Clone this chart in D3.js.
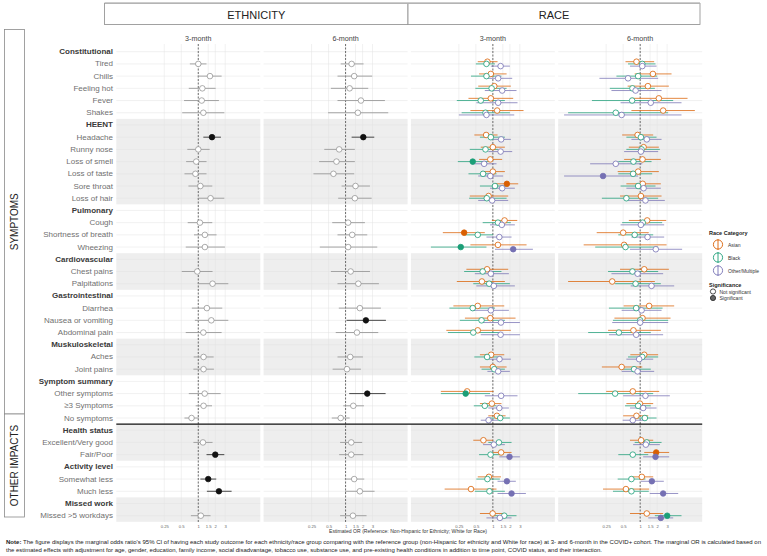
<!DOCTYPE html>
<html><head><meta charset="utf-8">
<script src="https://cdn.jsdelivr.net/npm/d3@7"></script>
<style>body{margin:0;background:#fff;} svg{display:block;font-family:"Liberation Sans",Arial,sans-serif;}</style>
</head><body><svg id="c" width="767" height="556"></svg>
<script>
// ---------------- DATA ----------------
const rowLabels = ["Constitutional","Tired","Chills","Feeling hot","Fever","Shakes",
  "HEENT","Headache","Runny nose","Loss of smell","Loss of taste","Sore throat","Loss of hair",
  "Pulmonary","Cough","Shortness of breath","Wheezing",
  "Cardiovascular","Chest pains","Palpitations",
  "Gastrointestinal","Diarrhea","Nausea or vomiting","Abdominal pain",
  "Muskuloskeletal","Aches","Joint pains",
  "Symptom summary","Other symptoms","\u22653 Symptoms","No symptoms",
  "Health status","Excellent/Very good","Fair/Poor",
  "Activity level","Somewhat less","Much less",
  "Missed work","Missed >5 workdays"];
const headers = ["Constitutional","HEENT","Pulmonary","Cardiovascular","Gastrointestinal","Muskuloskeletal","Symptom summary","Health status","Activity level","Missed work"];
const shadedGroups = ["HEENT","Cardiovascular","Muskuloskeletal","Health status","Missed work"];
const facetRows = ["SYMPTOMS","OTHER IMPACTS"];
const firstOtherImpactRow = "Health status";
const columnGroups = ["ETHNICITY","RACE"];
const timePoints = ["3-month","6-month"];
const raceCategories = ["Asian","Black","Other/Multiple"];
const raceColors = ["#D95F02","#1B9E77","#7570B3"];
const tickValues = [0.25,0.5,1,1.5,2,3];

// [OR, lower, upper] per outcome (29 outcomes, in row order)
const eth3 = [[1.00,0.71,1.40],[1.61,0.98,2.59],[1.18,0.68,2.03],[1.15,0.56,2.32],[1.23,0.52,2.89],
  [1.75,1.23,2.52],[1.00,0.64,1.59],[0.92,0.61,1.40],[0.89,0.57,1.40],[1.09,0.67,1.77],[1.65,0.98,2.89],
  [1.07,0.65,1.77],[1.31,0.84,2.11],[1.31,0.60,2.96],
  [0.96,0.51,1.79],[1.79,0.98,3.40],
  [1.42,0.77,2.66],[1.70,0.87,3.40],[1.23,0.60,2.59],
  [1.24,0.83,1.87],[1.24,0.82,1.89],
  [1.30,0.68,2.49],[1.24,0.90,1.75],[0.76,0.57,1.03],
  [1.21,0.82,1.79],[2.00,1.40,2.89],
  [1.50,1.09,2.08],[2.32,1.42,3.89],
  [1.11,0.74,1.65]];
const eth6 = [[1.28,0.82,2.08],[1.42,0.72,2.96],[1.18,0.55,2.52],[1.87,0.72,4.97],[1.65,0.49,5.69],
  [2.06,1.28,3.22],[0.77,0.42,1.46],[0.69,0.34,1.46],[0.61,0.27,1.42],[1.50,0.85,2.70],[1.46,0.74,2.89],
  [1.11,0.58,2.20],[1.31,0.72,2.42],[1.11,0.35,3.64],
  [1.23,0.55,2.70],[1.68,0.72,3.89],
  [1.79,0.76,4.22],[2.29,1.04,5.18],[1.59,0.67,3.79],
  [1.21,0.72,2.03],[1.06,0.59,1.87],
  [2.42,1.16,5.11],[1.37,0.91,2.11],[0.82,0.57,1.18],
  [1.26,0.80,1.97],[1.26,0.77,2.06],
  [1.42,0.97,2.14],[1.79,0.98,3.26],
  [1.35,0.80,2.35]];
const race3Asian = [[0.80,0.54,1.21],[0.92,0.57,1.75],[1.06,0.55,2.08],[0.92,0.37,2.29],[1.19,0.40,3.49],
  [0.76,0.47,1.21],[1.00,0.61,1.63],[0.90,0.57,1.46],[1.00,0.63,1.63],[1.77,1.09,2.81],[0.84,0.39,1.87],
  [1.61,0.96,2.70],[0.31,0.13,0.72],[1.23,0.40,3.95],
  [0.79,0.34,1.87],[0.64,0.23,1.63],
  [0.54,0.20,1.59],[0.90,0.32,2.52],[0.54,0.15,2.08],
  [0.93,0.59,1.59],[1.00,0.59,1.75],
  [0.35,0.12,1.03],[0.96,0.59,1.42],[1.18,0.83,1.68],
  [0.68,0.45,1.01],[1.40,0.97,2.14],
  [0.85,0.54,1.39],[0.41,0.14,1.16],
  [0.99,0.59,1.63]];
const race3Black = [[0.77,0.50,1.09],[0.77,0.41,1.42],[0.95,0.49,1.75],[0.61,0.23,1.63],[0.74,0.28,2.00],
  [0.92,0.59,1.63],[0.74,0.39,1.24],[0.44,0.24,0.83],[0.67,0.37,1.16],[1.09,0.59,1.87],[0.78,0.38,1.75],
  [1.23,0.66,2.08],[0.54,0.30,1.01],[0.27,0.08,0.77],
  [0.66,0.31,1.42],[0.86,0.45,2.00],
  [0.44,0.17,1.09],[0.63,0.26,1.63],[0.45,0.16,1.42],
  [0.79,0.47,1.42],[1.06,0.63,1.63],
  [0.33,0.12,0.89],[0.72,0.46,1.16],[1.35,0.89,2.00],
  [1.28,0.83,2.14],[0.91,0.57,1.52],
  [0.80,0.51,1.33],[0.87,0.48,1.63],
  [1.59,0.95,2.62]];
const race3Other = [[1.37,0.92,2.00],[1.24,0.72,2.20],[1.46,0.72,2.62],[1.24,0.51,2.73],[0.77,0.25,2.39],
  [1.40,0.89,2.08],[1.37,0.83,2.20],[0.70,0.42,1.16],[0.90,0.55,1.52],[1.46,0.89,2.45],[0.97,0.55,1.87],
  [1.44,0.89,2.45],[1.30,0.77,2.14],[2.29,1.09,5.11],
  [0.92,0.48,1.92],[1.04,0.51,2.45],
  [0.92,0.42,1.92],[1.39,0.65,3.01],[1.37,0.61,3.01],
  [1.31,0.83,2.08],[1.24,0.80,2.00],
  [1.40,0.72,2.73],[1.30,0.83,1.92],[0.84,0.61,1.24],
  [1.04,0.67,1.63],[1.97,1.30,3.01],
  [1.77,1.21,2.55],[2.14,1.21,3.84],
  [1.33,0.77,2.14]];
const race6Asian = [[0.86,0.55,1.77],[1.68,0.80,3.59],[1.37,0.60,3.22],[2.14,0.70,6.89],[2.55,0.70,9.29],
  [0.90,0.48,1.70],[1.15,0.63,2.14],[1.10,0.52,2.32],[0.92,0.40,2.14],[1.11,0.57,2.32],[1.03,0.44,2.39],
  [1.33,0.63,2.89],[0.50,0.17,1.42],[0.52,0.10,2.93],
  [1.18,0.44,3.22],[0.32,0.053,1.82],
  [1.44,0.51,4.00],[1.10,0.35,3.45],[0.76,0.27,2.32],
  [1.18,0.67,2.08],[0.47,0.21,1.09],
  [0.74,0.25,2.17],[0.99,0.57,1.70],[0.86,0.50,1.39],
  [1.04,0.66,1.70],[1.92,1.18,3.26],
  [1.07,0.70,1.70],[0.56,0.22,1.44],
  [1.31,0.66,2.55]];
const race6Black = [[1.09,0.61,1.87],[0.92,0.38,2.00],[0.73,0.29,1.82],[0.72,0.14,3.84],[0.37,0.053,3.13],
  [1.03,0.57,1.95],[1.06,0.57,2.23],[0.76,0.41,1.59],[0.75,0.41,1.63],[0.92,0.45,1.87],[0.57,0.21,2.08],
  [1.11,0.48,2.45],[0.80,0.41,1.70],[0.55,0.16,2.08],
  [0.73,0.27,2.08],[0.83,0.36,2.32],
  [0.85,0.28,2.49],[1.00,0.33,3.13],[0.42,0.12,1.54],
  [1.09,0.61,2.08],[0.78,0.45,1.54],
  [0.36,0.08,1.70],[0.92,0.54,1.54],[1.21,0.78,1.95],
  [1.31,0.80,2.39],[0.74,0.41,1.39],
  [0.70,0.40,1.24],[0.70,0.33,1.42],
  [3.01,1.82,5.39]];
const race6Other = [[1.09,0.66,1.95],[0.61,0.19,2.08],[0.83,0.31,2.39],[1.54,0.45,5.39],[0.47,0.045,5.39],
  [1.31,0.70,2.39],[1.03,0.52,2.08],[0.37,0.13,1.09],[0.22,0.045,0.92],[1.15,0.57,2.32],[1.24,0.57,2.73],
  [1.03,0.45,2.66],[1.35,0.70,2.66],[1.89,0.66,5.53],
  [0.90,0.31,2.55],[1.59,0.68,4.00],
  [1.06,0.47,2.39],[1.00,0.32,3.13],[0.85,0.28,2.55],
  [0.96,0.57,1.70],[0.90,0.47,1.77],
  [1.24,0.50,3.35],[1.13,0.66,1.95],[0.74,0.49,1.21],
  [1.26,0.75,2.23],[1.87,1.13,3.26],
  [1.61,1.03,2.62],[2.55,1.48,4.71],
  [2.32,1.39,3.84]];

// ---------------- LAYOUT ----------------
const svg = d3.select("#c");
const outcomes = rowLabels.filter(r => !headers.includes(r));
const y = d3.scalePoint().domain(rowLabels).range([51.7, 515.7]);
const step = y.step();
const panelW = 144;
const panelLefts = [116.3, 263.6, 410.9, 558.2];
const panelTop = 44, panelBottom = 522;
const x = d3.scaleLog().domain([0.0354, 12.53]).range([0, panelW]);
const isSig = d => d[1] > 1 || d[2] < 1;

// group extents
const groups = [];
rowLabels.forEach(r => {
  if (headers.includes(r)) groups.push({name: r, rows: [r]});
  else groups[groups.length - 1].rows.push(r);
});

const panels = [
  {type: "eth", data: eth3, time: timePoints[0]},
  {type: "eth", data: eth6, time: timePoints[1]},
  {type: "race", series: [race3Asian, race3Black, race3Other], time: timePoints[0]},
  {type: "race", series: [race6Asian, race6Black, race6Other], time: timePoints[1]}
];

panels.forEach((p, pi) => {
  const g = svg.append("g").attr("transform", `translate(${panelLefts[pi]},0)`);
  groups.filter(gr => shadedGroups.includes(gr.name)).forEach(gr => {
    const t = y(gr.rows[0]) - step / 2, b = y(gr.rows[gr.rows.length - 1]) + step / 2;
    g.append("rect").attr("x", 0).attr("y", t).attr("width", panelW).attr("height", b - t).attr("fill", "#eeeeee");
  });
  rowLabels.forEach(r => {
    g.append("line").attr("x1", 0).attr("x2", panelW).attr("y1", y(r)).attr("y2", y(r))
      .attr("stroke", "#e3e3e3").attr("stroke-width", 0.5);
  });
  tickValues.forEach(t => {
    g.append("line").attr("x1", x(t)).attr("x2", x(t)).attr("y1", panelTop).attr("y2", panelBottom)
      .attr("stroke", "#e3e3e3").attr("stroke-width", 0.5);
  });
  g.append("line").attr("x1", x(1)).attr("x2", x(1)).attr("y1", panelTop).attr("y2", panelBottom)
    .attr("stroke", "#333").attr("stroke-width", 0.7).attr("stroke-dasharray", "2,1.5");
  g.append("text").attr("x", x(1)).attr("y", 38).attr("text-anchor", "middle").attr("dominant-baseline", "central")
    .attr("font-size", 7.2).attr("fill", "#444444").text(p.time);
  const ax = g.append("g").attr("transform", `translate(0,${panelBottom})`)
    .call(d3.axisBottom(x).tickValues(tickValues).tickFormat(d => String(d)).tickSize(0).tickPadding(3.5));
  ax.select(".domain").remove();
  ax.selectAll("text").attr("font-size", 4.2).attr("fill", "#666").attr("font-family", "Liberation Sans, Arial, sans-serif");

  if (p.type === "eth") {
    p.data.forEach((d, i) => {
      const yy = y(outcomes[i]); const s = isSig(d);
      g.append("line").attr("x1", x(d[1])).attr("x2", x(d[2])).attr("y1", yy).attr("y2", yy)
        .attr("stroke", s ? "#333" : "#9a9a9a").attr("stroke-width", 0.9);
    });
    p.data.forEach((d, i) => {
      const yy = y(outcomes[i]); const s = isSig(d);
      g.append("circle").attr("cx", x(d[0])).attr("cy", yy).attr("r", 2.8)
        .attr("fill", s ? "#111" : "#fff").attr("stroke", s ? "#111" : "#8a8a8a").attr("stroke-width", 0.7);
    });
  } else {
    const offs = [-2.2, 0, 2.2];
    p.series.forEach((ser, si) => {
      ser.forEach((d, i) => {
        const yy = y(outcomes[i]) + offs[si];
        g.append("line").attr("x1", x(d[1])).attr("x2", x(d[2])).attr("y1", yy).attr("y2", yy)
          .attr("stroke", raceColors[si]).attr("stroke-opacity", 0.75).attr("stroke-width", 1);
      });
    });
    p.series.forEach((ser, si) => {
      ser.forEach((d, i) => {
        const yy = y(outcomes[i]) + offs[si]; const s = isSig(d);
        g.append("circle").attr("cx", x(d[0])).attr("cy", yy).attr("r", 2.8)
          .attr("fill", s ? raceColors[si] : "#fff").attr("stroke", raceColors[si]).attr("stroke-width", 0.8);
      });
    });
  }
});

// facet separator line
const sepY = (y(firstOtherImpactRow) + y("No symptoms")) / 2;
svg.append("line").attr("x1", panelLefts[0]).attr("x2", panelLefts[3] + panelW).attr("y1", sepY).attr("y2", sepY)
  .attr("stroke", "#111").attr("stroke-width", 1.3);

// row labels
rowLabels.forEach(r => {
  const h = headers.includes(r);
  svg.append("text").attr("x", 113).attr("y", y(r)).attr("text-anchor", "end").attr("dominant-baseline", "central")
    .attr("font-size", 8).attr("font-weight", h ? "bold" : "normal").attr("fill", h ? "#3a3a3a" : "#707070").text(r);
});

// column strips
const stripBoxes = [[104.5, 408], [408, 700]];
columnGroups.forEach((c, i) => {
  const [a, b] = stripBoxes[i];
  svg.append("rect").attr("x", a).attr("y", 3.5).attr("width", b - a).attr("height", 21).attr("fill", "#fff")
    .attr("stroke", "#8a8a8a").attr("stroke-width", 0.8);
  svg.append("text").attr("x", (a + b) / 2).attr("y", 14.5).attr("text-anchor", "middle").attr("dominant-baseline", "central")
    .attr("font-size", 11).attr("fill", "#222").text(c);
});
svg.append("line").attr("x1", 104.5).attr("x2", 700).attr("y1", 3).attr("y2", 3).attr("stroke", "#bbb").attr("stroke-width", 1.6);

// row strips
const rowBoxes = [[29.5, 414], [414, 517]];
facetRows.forEach((f, i) => {
  const [a, b] = rowBoxes[i];
  svg.append("rect").attr("x", 4.5).attr("y", a).attr("width", 20).attr("height", b - a).attr("fill", "#fff")
    .attr("stroke", "#8a8a8a").attr("stroke-width", 0.8);
  svg.append("text").attr("transform", `translate(14.5,${(a + b) / 2}) rotate(-90)`).attr("text-anchor", "middle")
    .attr("dominant-baseline", "central").attr("font-size", 10).attr("fill", "#222").text(f);
});

// axis title
svg.append("text").attr("x", 408).attr("y", 531).attr("text-anchor", "middle").attr("dominant-baseline", "central")
  .attr("font-size", 5).attr("fill", "#333").attr("textLength", 158).attr("lengthAdjust", "spacingAndGlyphs")
  .text("Estimated OR (Reference: Non-Hispanic for Ethnicity; White for Race)");

// legend
svg.append("text").attr("x", 709).attr("y", 233).attr("dominant-baseline", "central").attr("font-size", 5.5)
  .attr("font-weight", "bold").attr("fill", "#222").text("Race Category");
raceCategories.forEach((c, i) => {
  const cy = 244.5 + i * 13;
  svg.append("line").attr("x1", 718).attr("x2", 718).attr("y1", cy - 5.5).attr("y2", cy + 5.5).attr("stroke", raceColors[i]).attr("stroke-width", 0.9);
  svg.append("circle").attr("cx", 718).attr("cy", cy).attr("r", 4.6).attr("fill", "none").attr("stroke", raceColors[i]).attr("stroke-width", 0.9);
  svg.append("text").attr("x", 728).attr("y", cy).attr("dominant-baseline", "central").attr("font-size", 5).attr("fill", "#333").text(c);
});
svg.append("text").attr("x", 709).attr("y", 284.5).attr("dominant-baseline", "central").attr("font-size", 5.5)
  .attr("font-weight", "bold").attr("fill", "#222").text("Significance");
[["Not significant", "#fff"], ["Significant", "#666"]].forEach((s, i) => {
  const cy = 291.5 + i * 6.5;
  svg.append("circle").attr("cx", 713).attr("cy", cy).attr("r", 2.6).attr("fill", s[1]).attr("stroke", "#222").attr("stroke-width", 0.8);
  svg.append("text").attr("x", 719.5).attr("y", cy).attr("dominant-baseline", "central").attr("font-size", 5).attr("fill", "#333").text(s[0]);
});

// note
const note1 = svg.append("text").attr("x", 6).attr("y", 542).attr("dominant-baseline", "central").attr("font-size", 5.4)
  .attr("fill", "#222").attr("textLength", 755).attr("lengthAdjust", "spacingAndGlyphs");
note1.append("tspan").attr("font-weight", "bold").text("Note: ");
note1.append("tspan").text("The figure displays the marginal odds ratio's 95% CI of having each study outcome for each ethnicity/race group comparing with the reference group (non-Hispanic for ethnicity and White for race) at 3- and 6-month in the COVID+ cohort. The marginal OR is calculated based on");
svg.append("text").attr("x", 6).attr("y", 550).attr("dominant-baseline", "central").attr("font-size", 5.4)
  .attr("fill", "#222").attr("textLength", 596).attr("lengthAdjust", "spacingAndGlyphs")
  .text("the estimated effects with adjustment for age, gender, education, family income, social disadvantage, tobacco use, substance use, and pre-existing health conditions in addition to time point, COVID status, and their interaction.");
</script></body></html>
